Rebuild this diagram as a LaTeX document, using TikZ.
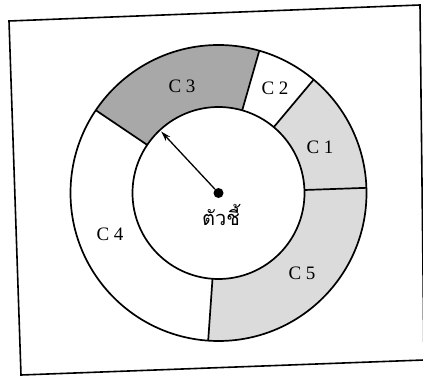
\documentclass[tikz,border=0pt]{standalone}
\usepackage{fontspec}
\setmainfont{Liberation Serif}
\newfontfamily\thaifont[Script=Thai]{Loma}
\usetikzlibrary{arrows.meta,calc}
\definecolor{darkfill}{gray}{0.66}
\definecolor{lightfill}{gray}{0.86}
\tikzset{
  frameline/.style={line width=1.6pt, line join=miter},
  ringline/.style={line width=1.7pt},
  ringcircle/.style={circle, draw, line width=1.7pt, inner sep=0pt, outer sep=0pt},
  seclabel/.style={font=\fontsize{19}{21}\selectfont, inner sep=0pt},
  pointer/.style={line width=1.3pt, -{Stealth[length=10pt,width=6pt]}},
}
\newcommand{\annsec}[3]{%
  \fill[#3] ($(C)+(#1:148)$) arc[start angle=#1, end angle=#2, radius=148]
    -- ($(C)+(#2:86)$) arc[start angle=#2, end angle=#1, radius=86] -- cycle;}
\begin{document}
\begin{tikzpicture}[x=1pt,y=1pt]
\useasboundingbox (0,0) rectangle (423,380);
\coordinate (C) at (218.5,187);
% frame (slightly skewed as in the scan)
\draw[frameline] (9,359) -- (420,375) -- (424,20) -- (21,5) -- cycle;
% sector fills
\annsec{2}{50}{lightfill}
\annsec{74}{146}{darkfill}
\annsec{266}{362}{lightfill}
% circles
\node[ringcircle, minimum size=296pt] (outer) at (C) {};
\node[ringcircle, minimum size=172pt] (inner) at (C) {};
% boundaries
\draw[ringline] (inner.2) -- (outer.2);
\draw[ringline] (inner.50) -- (outer.50);
\draw[ringline] (inner.74) -- (outer.74);
\draw[ringline] (inner.146) -- (outer.146);
\draw[ringline] (inner.266) -- (outer.266);
% labels
\node[seclabel] (c3) at (182,294) {C 3};
\node[seclabel] (c2) at (275,292) {C 2};
\node[seclabel] (c1) at (320,233) {C 1};
\node[seclabel] (c5) at (302,107) {C 5};
\node[seclabel] (c4) at (110,146) {C 4};
% pointer
\node[circle, fill=black, minimum size=10pt, inner sep=0pt] (dot) at (C) {};
\draw[pointer] (dot) -- ($(C)+(133:84)$) coordinate (tip);
\node[font=\thaifont\fontsize{20}{22}\selectfont, inner sep=0pt, anchor=base] (lbl) at (221,154) {ตัวชี้};
\end{tikzpicture}
\end{document}
